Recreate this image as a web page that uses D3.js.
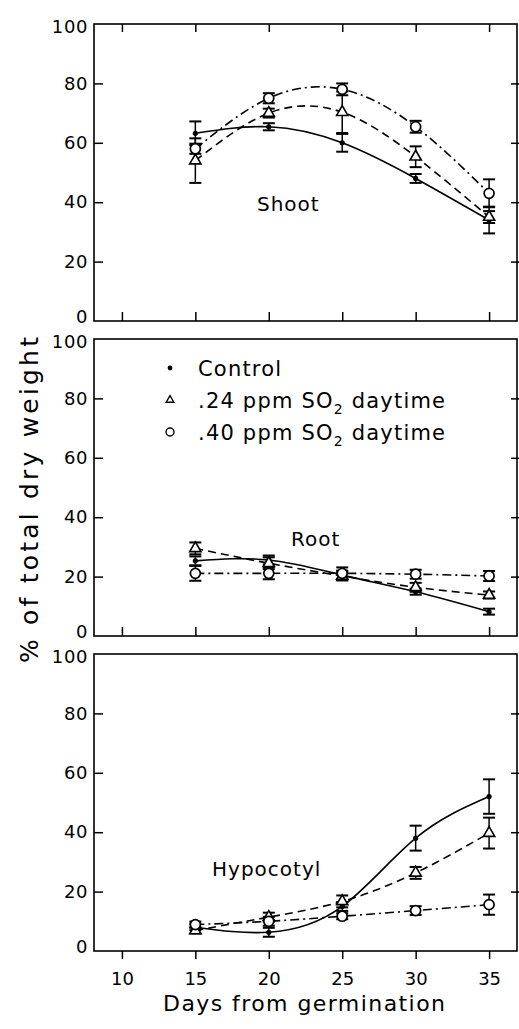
<!DOCTYPE html>
<html>
<head>
<meta charset="utf-8">
<script src="https://cdn.jsdelivr.net/npm/d3@7"></script>
<style>
  body { margin: 0; background: #fff; }
  svg { display: block; font-family: "DejaVu Sans", sans-serif; }
</style>
</head>
<body>
<svg class="svg" width="519" height="1029"></svg>
<script>
// days when plants were sampled
const days = [15, 20, 25, 30, 35];
const xTicks = [10, 15, 20, 25, 30, 35];
const yTicks = [0, 20, 40, 60, 80, 100];
const seriesNames = ["Control", ".24 ppm SO2 daytime", ".40 ppm SO2 daytime"];

// Shoot (% of total dry weight)
const shootControl = [63.2, 65.4, 60, 48, 34];
const shootControlErr = [4, 1.2, 3, 1.5, 4.5];
const shootLow = [54, 70, 70.3, 55.3, 35];
const shootLowErr = [7.5, 1.5, 7, 3.5, 2];
const shootHigh = [58, 75, 78, 65.4, 43];
const shootHighErr = [1.7, 1.7, 2, 2, 4.7];

// Root
const rootControl = [25.3, 25.6, 20.5, 14.9, 8.2];
const rootControlErr = [1.5, 1.5, 1.5, 1, 1];
const rootLow = [29.5, 24.5, 20.2, 16.4, 13.8];
const rootLowErr = [2, 2, 1.5, 1.5, 1.2];
const rootHigh = [21.1, 21.1, 21.1, 20.8, 20.2];
const rootHighErr = [2.5, 2, 2, 1.5, 1.7];

// Hypocotyl
const hypoControl = [8, 6.3, 15, 38, 52];
const hypoControlErr = [1, 1.5, 1.5, 4.2, 5.8];
const hypoLow = [6.9, 11.4, 16.7, 26.3, 39.7];
const hypoLowErr = [1, 1.5, 2, 2, 5.2];
const hypoHigh = [8.9, 10, 11.7, 13.6, 15.6];
const hypoHighErr = [1, 1.5, 1, 1.5, 3.4];

const panels = [
  { label: "Shoot", top: 24, bottom: 321, lx: 257, ly: 211,
    series: [[shootControl, shootControlErr], [shootLow, shootLowErr], [shootHigh, shootHighErr]],
    topTicks: true, bottomTicks: "in" },
  { label: "Root", top: 339, bottom: 636, lx: 291, ly: 546,
    series: [[rootControl, rootControlErr], [rootLow, rootLowErr], [rootHigh, rootHighErr]],
    topTicks: false, bottomTicks: "in" },
  { label: "Hypocotyl", top: 654, bottom: 951, lx: 212, ly: 876,
    series: [[hypoControl, hypoControlErr], [hypoLow, hypoLowErr], [hypoHigh, hypoHighErr]],
    topTicks: false, bottomTicks: "out" }
];

const left = 94, right = 517;
const x = d3.scaleLinear().domain([8.1, 36.9]).range([left, right]);

// line style per series: control solid, low dashed, high dash-dot
const dashes = [null, "8,5", "9,4,2,4"];

const svg = d3.select(".svg");

panels.forEach(p => {
  const y = d3.scaleLinear().domain([0, 100]).range([p.bottom, p.top]);
  const g = svg.append("g").attr("class", "panel");

  // frame
  g.append("rect")
    .attr("x", left).attr("y", p.top)
    .attr("width", right - left).attr("height", p.bottom - p.top)
    .attr("fill", "none").attr("stroke", "#000").attr("stroke-width", 1.6);

  // left axis, ticks pointing in
  const ya = g.append("g")
    .attr("transform", `translate(${left},0)`)
    .call(d3.axisLeft(y).tickValues(yTicks).tickSize(-9).tickPadding(6));
  ya.select(".domain").remove();
  ya.selectAll("line").attr("stroke-width", 1.5);
  ya.selectAll("text").attr("font-size", 18).attr("fill", "#000")
    .attr("font-family", "DejaVu Sans").attr("letter-spacing", 0.6);
  // the 0 and 100 labels of stacked panels sit just off the frame corners
  ya.selectAll(".tick").filter(d => d === 0).select("text").attr("y", -4);
  ya.selectAll(".tick").filter(d => d === 100).select("text").attr("y", 3);
  ya.selectAll(".tick").filter(d => d === 0 || d === 100).select("line").remove();

  // right side ticks
  const yr = g.append("g")
    .attr("transform", `translate(${right},0)`)
    .call(d3.axisRight(y).tickValues([20, 40, 60, 80]).tickSizeInner(-6).tickSizeOuter(0).tickFormat(""));
  yr.select(".domain").remove();
  yr.selectAll("line").attr("x2", -6).attr("x1", 2).attr("stroke-width", 1.5);

  if (p.topTicks) {
    const xt = g.append("g")
      .attr("transform", `translate(0,${p.top})`)
      .call(d3.axisTop(x).tickValues(xTicks).tickSize(-8).tickFormat(""));
    xt.select(".domain").remove();
    xt.selectAll("line").attr("stroke-width", 1.5);
  }

  const xb = g.append("g")
    .attr("transform", `translate(0,${p.bottom})`)
    .call(d3.axisBottom(x).tickValues(xTicks)
      .tickSize(p.bottomTicks === "in" ? -9 : 8)
      .tickPadding(p.bottomTicks === "in" ? 0 : 13)
      .tickFormat(p.bottomTicks === "in" ? "" : d3.format("d")));
  xb.select(".domain").remove();
  xb.selectAll("line").attr("stroke-width", 1.5);
  xb.selectAll("text").attr("font-size", 18).attr("fill", "#000")
    .attr("font-family", "DejaVu Sans");

  // panel name
  g.append("text")
    .attr("x", p.lx).attr("y", p.ly)
    .attr("font-size", 20)
    .attr("letter-spacing", 1)
    .text(p.label);

  // fitted curves
  const line = d3.line()
    .x((d, i) => x(days[i]))
    .y(d => y(d))
    .curve(d3.curveNatural);

  p.series.forEach((s, k) => {
    g.append("path")
      .datum(s[0])
      .attr("fill", "none")
      .attr("stroke", "#000")
      .attr("stroke-width", 1.6)
      .attr("stroke-dasharray", dashes[k])
      .attr("d", line);
  });

  // error bars
  p.series.forEach((s, k) => {
    const rows = s[0].map((v, i) => ({ day: days[i], v: v, e: s[1][i] }));
    const eb = g.selectAll(`.err-${k}`)
      .data(rows)
      .enter()
      .append("g")
      .attr("class", `err-${k}`)
      .attr("stroke", "#000");
    eb.append("line")
      .attr("x1", d => x(d.day)).attr("x2", d => x(d.day))
      .attr("y1", d => y(d.v - d.e)).attr("y2", d => y(d.v + d.e))
      .attr("stroke-width", 1.5);
    eb.append("line")
      .attr("x1", d => x(d.day) - 6).attr("x2", d => x(d.day) + 6)
      .attr("y1", d => y(d.v + d.e)).attr("y2", d => y(d.v + d.e))
      .attr("stroke-width", 2);
    eb.append("line")
      .attr("x1", d => x(d.day) - 6).attr("x2", d => x(d.day) + 6)
      .attr("y1", d => y(d.v - d.e)).attr("y2", d => y(d.v - d.e))
      .attr("stroke-width", 2);
  });

  // markers
  p.series.forEach((s, k) => {
    const m = g.selectAll(`.mark-${k}`)
      .data(s[0])
      .enter();
    if (k === 0) {
      m.append("circle")
        .attr("class", `mark-${k}`)
        .attr("cx", (d, i) => x(days[i])).attr("cy", d => y(d))
        .attr("r", 2.6).attr("fill", "#000");
    } else if (k === 1) {
      m.append("path")
        .attr("class", `mark-${k}`)
        .attr("d", d3.symbol().type(d3.symbolTriangle).size(55))
        .attr("transform", (d, i) => `translate(${x(days[i])},${y(d)})`)
        .attr("fill", "#fff").attr("stroke", "#000").attr("stroke-width", 1.6);
    } else {
      m.append("circle")
        .attr("class", `mark-${k}`)
        .attr("cx", (d, i) => x(days[i])).attr("cy", d => y(d))
        .attr("r", 5).attr("fill", "#fff").attr("stroke", "#000").attr("stroke-width", 1.7);
    }
  });
});

// legend inside the Root panel
const legendY = [368, 400, 432];
const legend = svg.append("g").attr("class", "legend");
legend.append("circle").attr("cx", 170).attr("cy", legendY[0]).attr("r", 2.4).attr("fill", "#000");
legend.append("path")
  .attr("d", d3.symbol().type(d3.symbolTriangle).size(26))
  .attr("transform", `translate(170,${legendY[1]})`)
  .attr("fill", "#fff").attr("stroke", "#000").attr("stroke-width", 1.4);
legend.append("circle").attr("cx", 170).attr("cy", legendY[2]).attr("r", 4)
  .attr("fill", "#fff").attr("stroke", "#000").attr("stroke-width", 1.4);

seriesNames.forEach((name, i) => {
  const t = legend.append("text")
    .attr("x", 198).attr("y", legendY[i] + 8)
    .attr("font-size", 21)
    .attr("letter-spacing", 1.2);
  const parts = name.split("SO2");
  if (parts.length === 1) {
    t.text(name);
  } else {
    t.append("tspan").text(parts[0] + "SO");
    t.append("tspan").attr("dy", 6).attr("font-size", 14).text("2");
    t.append("tspan").attr("dy", -6).text(parts[1]);
  }
});

// axis titles
svg.append("text")
  .attr("transform", "translate(38,500) rotate(-90)")
  .attr("text-anchor", "middle")
  .attr("font-size", 25)
  .attr("textLength", 326)
  .attr("lengthAdjust", "spacing")
  .text("% of total dry weight");

svg.append("text")
  .attr("x", 304).attr("y", 1011)
  .attr("text-anchor", "middle")
  .attr("font-size", 22)
  .attr("textLength", 282)
  .attr("lengthAdjust", "spacing")
  .text("Days from germination");
</script>
</body>
</html>
